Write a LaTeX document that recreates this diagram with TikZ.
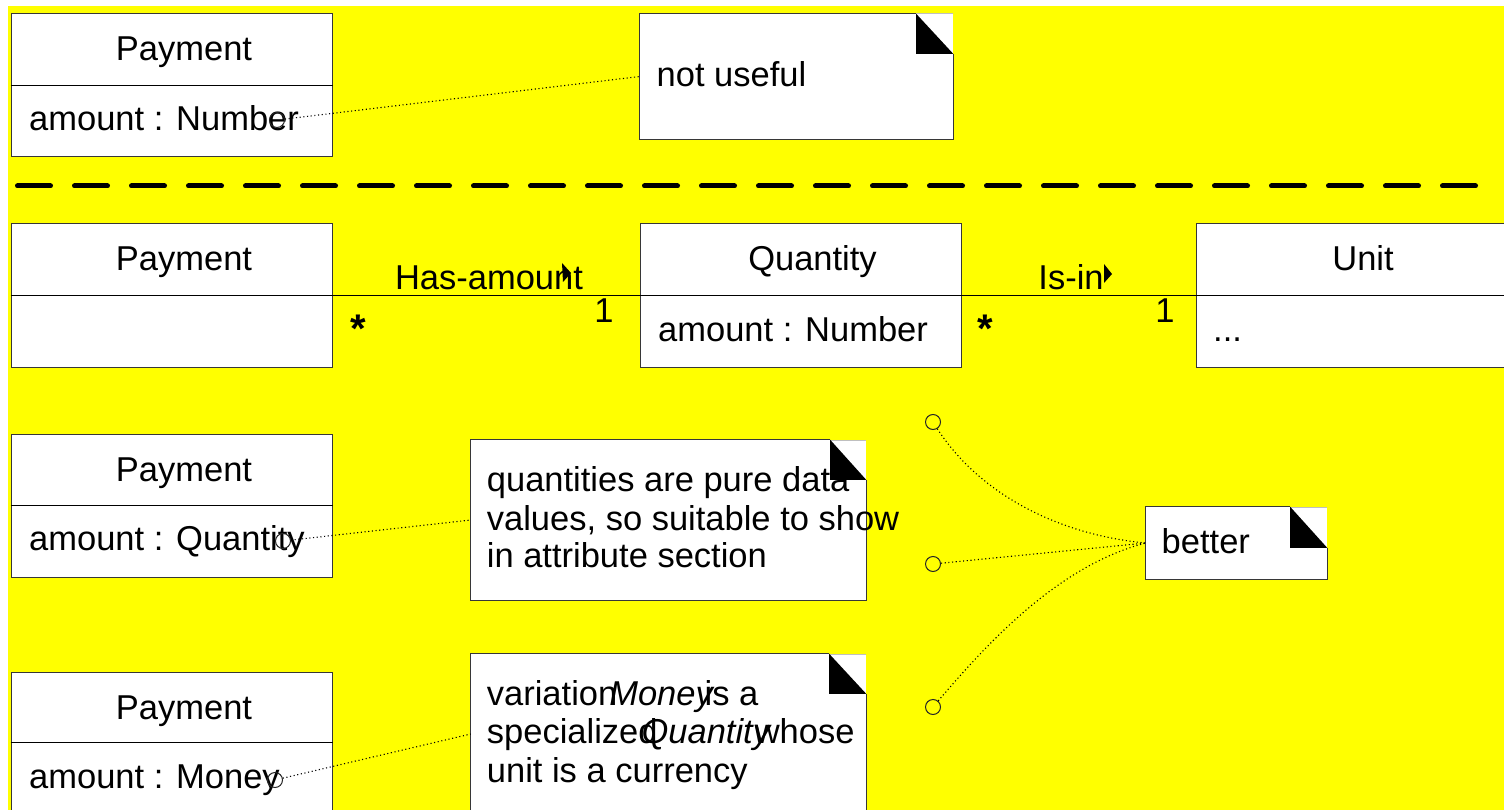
\documentclass[tikz,border=0pt]{standalone}
\usepackage{fontspec}
\setmainfont{Liberation Sans}
\usetikzlibrary{calc}
\definecolor{bgyellow}{RGB}{255,255,0}
\definecolor{edgegray}{RGB}{55,55,55}

\tikzset{
  classbox/.style={draw=edgegray, line width=1pt, fill=white, inner sep=0pt,
                   minimum width=321pt, minimum height=143pt},
  notebody/.style={fill=white, inner sep=0pt},
  noteedge/.style={draw=edgegray, line width=1pt},
  txt/.style={inner sep=0pt, font=\fontsize{34.5pt}{37.5pt}\selectfont},
  multstar/.style={inner sep=0pt, font=\fontsize{40pt}{40pt}\selectfont\bfseries},
  pin/.style={circle, draw=black!85, line width=1pt, minimum size=15pt, inner sep=0pt},
  attach/.style={draw=black, line width=1.1pt, dash pattern=on 1.1pt off 2.6pt},
  assoc/.style={draw=black, line width=1pt},
  divider/.style={draw=black, line width=1pt}
}

% compartment line of a class box, #2 below its top edge
\newcommand\compline[2]{%
  \draw[divider] ($(#1.north west)+(0,#2)$) -- ($(#1.north east)+(0,#2)$);}

% outline of a note with its corner cut; #2 x #3 is the size of the fold
\newcommand\foldnote[3]{%
  \draw[noteedge] ($(#1.north east)+(-#2,0)$) -- (#1.north west) -- (#1.south west)
        -- (#1.south east) -- ($(#1.north east)+(0,#3)$);
  \draw[gray!50, line width=0.6pt] ($(#1.north east)+(-#2,0)$) -- (#1.north east);}

% the black folded-down corner, laid over the note text
\newcommand\foldmark[3]{%
  \fill[black] ($(#1.north east)+(-#2,0)$) -- ($(#1.north east)+(-#2,#3)$)
        -- ($(#1.north east)+(0,#3)$) -- cycle;}

\begin{document}
\begin{tikzpicture}[x=1pt, y=-1pt]
  \path[use as bounding box] (0,0) rectangle (1504,810);
  \clip (0,0) rectangle (1504,810);
  \fill[white] (0,0) rectangle (1504,810);
  \fill[bgyellow] (8,6) rectangle (1504,810);

  % ---------- attribute typed by a plain number ----------
  \node[classbox] (pay1) at (171.5,85.5) {};
  \compline{pay1}{72}
  \node[txt, anchor=base] (pay1name) at (184,61) {Payment};
  \node[txt, anchor=base west] (pay1attr) at (29,131) {amount : Number};

  \node[notebody, minimum width=313pt, minimum height=125pt] (n1) at (796.5,76.5) {};
  \foldnote{n1}{37}{40}
  \node[txt, anchor=base west] (n1text) at (656.5,87) {not useful};
  \foldmark{n1}{37}{40}

  % ---------- separator ----------
  \draw[line width=5pt, line cap=round, dash pattern=on 33pt off 24pt]
        (17.5,186) -- (1475.5,186);

  % ---------- Payment -- Quantity -- Unit ----------
  \node[classbox] (pay2) at (171.5,295.5) {};
  \compline{pay2}{72}
  \node[txt, anchor=base] (pay2name) at (184,271) {Payment};

  \node[classbox] (qty) at (800.5,295.5) {};
  \compline{qty}{72}
  \node[txt, anchor=base] (qtyname) at (812.5,271) {Quantity};
  \node[txt, anchor=base west] (qtyattr) at (658,341) {amount : Number};

  \node[classbox] (unit) at (1356.5,295.5) {};
  \compline{unit}{72}
  \node[txt, anchor=base] (unitname) at (1363,271) {Unit};
  \node[txt, anchor=base west] (unitattr) at (1213,341) {...};

  \draw[assoc] (pay2.east) -- (qty.west);
  \draw[assoc] (qty.east) -- (unit.west);

  \node[txt, anchor=base] (hasamount) at (489,290) {Has-amount};
  \fill[black] (562,263) -- (571,273) -- (563,282) -- cycle;
  \node[multstar, anchor=base] (mult1a) at (358,342) {*};
  \node[txt, anchor=base] (mult1b) at (604,322) {1};

  \node[txt, anchor=base] (isin) at (1071,290) {Is-in};
  \fill[black] (1104,264) -- (1112,274) -- (1104,283) -- cycle;
  \node[multstar, anchor=base] (mult2a) at (985,342) {*};
  \node[txt, anchor=base] (mult2b) at (1165,322) {1};

  % ---------- attribute typed by Quantity ----------
  \node[classbox] (pay3) at (171.5,505.5) {};
  \compline{pay3}{71.5}
  \node[txt, anchor=base] (pay3name) at (184,481) {Payment};
  \node[txt, anchor=base west] (pay3attr) at (29,550) {amount : Quantity};

  \node[notebody, minimum width=395pt, minimum height=160pt] (n2) at (668.5,520) {};
  \foldnote{n2}{36}{40}
  \node[txt, anchor=base west] (n2l1) at (486.7,491.7) {quantities are pure data};
  \node[txt, anchor=base west] (n2l2) at (486.7,530) {values, so suitable to show};
  \node[txt, anchor=base west] (n2l3) at (486.7,567) {in attribute section};
  \foldmark{n2}{36}{40}

  % ---------- attribute typed by Money ----------
  \node[classbox] (pay4) at (171.5,743.5) {};
  \compline{pay4}{71}
  \node[txt, anchor=base] (pay4name) at (184,719) {Payment};
  \node[txt, anchor=base west] (pay4attr) at (29,788) {amount : Money};

  \node[notebody, minimum width=395pt, minimum height=160pt] (n3) at (668.5,734) {};
  \foldnote{n3}{37}{40}
  \node[txt, anchor=base west] (n3l1) at (486.7,705)
       {variation\kern-8pt\textit{Money}\kern-10pt{}is a};
  \node[txt, anchor=base west] (n3l2) at (486.7,743)
       {specialized\kern-16pt\textit{Quantity}\kern-17pt{}whose};
  \node[txt, anchor=base west] (n3l3) at (486.7,782) {unit is a currency};
  \foldmark{n3}{37}{40}

  % ---------- "better" note ----------
  \node[notebody, minimum width=181pt, minimum height=72pt] (better) at (1236.5,543) {};
  \foldnote{better}{37}{41}
  \node[txt, anchor=base west] (bettertext) at (1161.5,553) {better};
  \foldmark{better}{37}{41}

  % ---------- note anchors ----------
  \node[pin] (p1c) at (277,120) {};
  \node[pin] (p3c) at (283,541) {};
  \node[pin] (p4c) at (275,780) {};
  \node[pin] (b1) at (933,422) {};
  \node[pin] (b2) at (933,564) {};
  \node[pin] (b3) at (933,707) {};

  \draw[attach] (p1c) -- (n1.west);
  \draw[attach] (p3c) -- (n2.west);
  \draw[attach] (p4c) -- (n3.west);
  \draw[attach] (b1) .. controls (980,495) and (1060,535) .. (better.west);
  \draw[attach] (b2) -- (better.west);
  \draw[attach] (b3) .. controls (990,640) and (1060,565) .. (better.west);
\end{tikzpicture}
\end{document}
